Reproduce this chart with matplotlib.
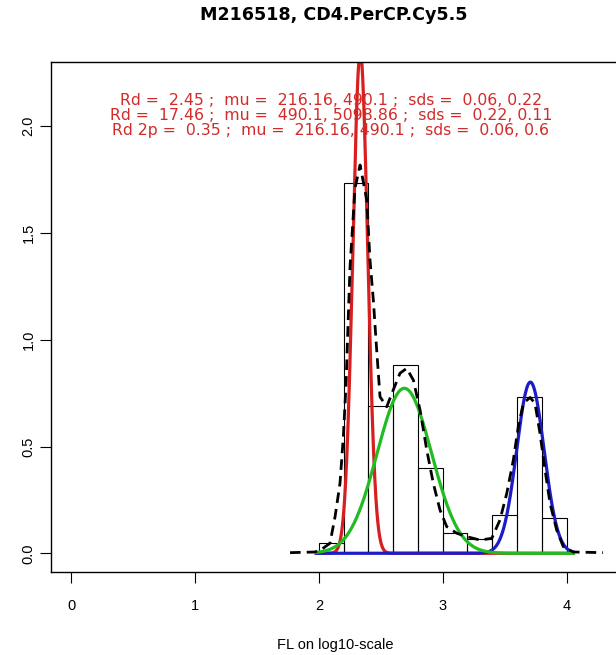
import numpy as np
import matplotlib
matplotlib.use("Agg")
import matplotlib.pyplot as plt

plt.rcParams['font.family'] = ['Liberation Sans', 'DejaVu Sans']

# histogram (density scale), bins of 0.2 on log10 axis
bin_edges = [2.0, 2.2, 2.4, 2.6, 2.8, 3.0, 3.2, 3.4, 3.6, 3.8, 4.0]
bin_density = [0.047, 1.735, 0.690, 0.882, 0.401, 0.096, 0.066, 0.179, 0.730, 0.164]

# kernel density estimate (dashed black)
kde_x = [1.768, 1.969, 2.026, 2.090, 2.131, 2.171, 2.198, 2.220, 2.238, 2.252,
         2.292, 2.333, 2.387, 2.413, 2.440, 2.467, 2.494, 2.548, 2.601, 2.655,
         2.709, 2.763, 2.817, 2.871, 2.924, 2.978, 3.032, 3.113, 3.194, 3.301,
         3.396, 3.462, 3.517, 3.570, 3.610, 3.651, 3.705, 3.745, 3.785, 3.826,
         3.866, 3.920, 3.973, 4.054, 4.294]
kde_y = [0.003, 0.006, 0.020, 0.047, 0.171, 0.328, 0.546, 0.796, 1.108, 1.342,
         1.709, 1.818, 1.654, 1.373, 1.186, 0.952, 0.733, 0.686, 0.765, 0.843,
         0.866, 0.811, 0.671, 0.484, 0.328, 0.203, 0.125, 0.094, 0.078, 0.062,
         0.070, 0.156, 0.281, 0.437, 0.593, 0.702, 0.730, 0.702, 0.562, 0.390,
         0.234, 0.109, 0.031, 0.006, 0.003]

# fitted mixture components: mu (linear scale), sd (log10 scale), weight
comp_mu = [216.16, 490.1, 5098.86]
comp_sd = [0.06, 0.22, 0.11]
comp_w = [0.353, 0.426, 0.221]
comp_col = ['#d81e1e', '#22bb22', '#1c1cc8']
comp_z = [2, 4, 3]

info_lines = [
    "Rd =  2.45 ;  mu =  216.16, 490.1 ;  sds =  0.06, 0.22",
    "Rd =  17.46 ;  mu =  490.1, 5098.86 ;  sds =  0.22, 0.11",
    "Rd 2p =  0.35 ;  mu =  216.16, 490.1 ;  sds =  0.06, 0.6",
]
info_y = [2.122, 2.052, 1.982]

W, H = 616, 655
fig = plt.figure(figsize=(W / 100, H / 100), dpi=100)

xlim = (-0.164, 4.5)
ylim = (-0.089, 2.299)
px_per_x = 123.9
left = 50.7 / W
bottom = (H - 572.3) / H
ax = fig.add_axes([left, bottom, (xlim[1] - xlim[0]) * px_per_x / W, (572.3 - 62.3) / H])

ax.bar(bin_edges[:-1], bin_density, width=np.diff(bin_edges), align='edge',
       fill=False, edgecolor='black', linewidth=0.8, zorder=1)

grid = np.linspace(1.98, 4.055, 600)
for mu, sd, w, col, z in zip(comp_mu, comp_sd, comp_w, comp_col, comp_z):
    m = np.log10(mu)
    dens = w * np.exp(-0.5 * ((grid - m) / sd) ** 2) / (sd * np.sqrt(2 * np.pi))
    ax.plot(grid, dens, color=col, linewidth=2.3, zorder=z)

ax.plot(kde_x, kde_y, color='black', linewidth=2.0, linestyle=(0, (3.8, 2.2)), zorder=5)

for line, yy in zip(info_lines, info_y):
    ax.text(2.098, yy, line, color='#d42a2a', fontsize=11.3, family='DejaVu Sans',
            ha='center', va='center', zorder=6)

ax.set_xlim(*xlim)
ax.set_ylim(*ylim)
ax.set_xticks([0, 1, 2, 3, 4])
ax.set_yticks([0.0, 0.5, 1.0, 1.5, 2.0])
ax.set_yticklabels(['0.0', '0.5', '1.0', '1.5', '2.0'], rotation=90, va='center')
ax.tick_params(axis='x', direction='out', length=8, width=0.8, pad=11, labelsize=10.5, colors='black')
ax.tick_params(axis='y', direction='out', length=8, width=0.8, pad=3, labelsize=10.5, colors='black')
for sp in ax.spines.values():
    sp.set_linewidth(1.0)

fig.text(334 / W, 1 - 15 / H, "M216518, CD4.PerCP.Cy5.5", ha='center', va='center',
         fontsize=12.6, fontweight='bold', family='DejaVu Sans')
fig.text(335 / W, 1 - 645 / H, "FL on log10-scale", ha='center', va='center', fontsize=10.5)

fig.savefig("out.png", dpi=100)
